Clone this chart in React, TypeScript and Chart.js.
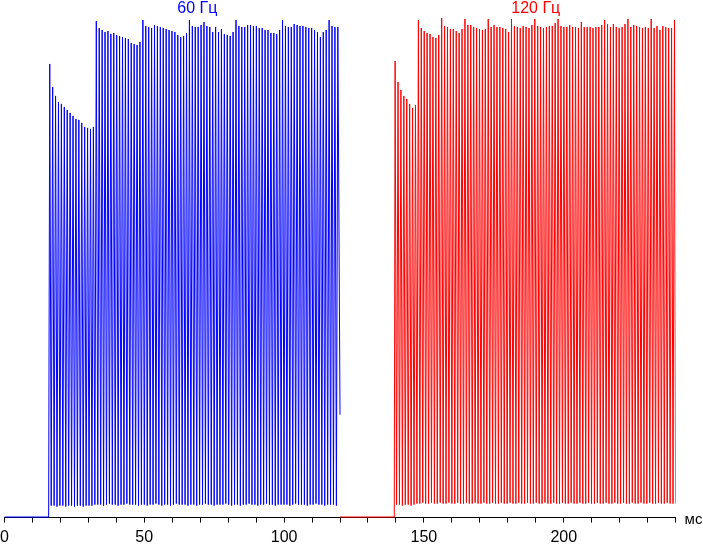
import { useEffect, useRef } from "react"
import { Chart, type ChartConfiguration, type Plugin, registerables } from "chart.js"

Chart.register(...registerables)

// flicker period of the backlight, ms (same in both modes)
const PERIOD = 1.0406

// x axis, ms
const X_MIN = 0
const X_MAX = 240
const X_STEP = 10
const X_LABELLED = [0, 50, 100, 150, 200]

// 60 Hz trace: dark until riseAt, then one peak + one trough per period
const hz60Dark = [0, 15.8]
const hz60FirstPeak = 16.2
const hz60Peaks = [
  454, 431, 422, 416, 414, 411, 408, 405, 402, 399, 398, 395, 391, 390, 389, 391,
  497, 490, 488, 486, 487, 484, 485, 483, 482, 481, 480, 479, 475, 474, 473, 476,
  498, 492, 491, 490, 493, 492, 491, 490, 489, 488, 487, 486, 483, 481, 482, 485,
  498, 492, 491, 491, 493, 496, 492, 491, 486, 491, 486, 489, 484, 483, 482, 486,
  498, 492, 491, 491, 493, 493, 492, 492, 490, 490, 488, 488, 485, 485, 484, 488,
  498, 492, 491, 491, 494, 493, 492, 492, 491, 490, 490, 488, 486, 481, 486, 488,
  498, 492, 491, 491,
]
const hz60Troughs = [
  12, 12, 11, 12, 12, 11, 12, 12, 11, 12, 12, 11, 12, 12, 12, 13,
  13, 13, 12, 13, 14, 13, 13, 12, 13, 13, 14, 13, 13, 13, 12, 13,
  13, 12, 13, 13, 14, 13, 12, 13, 13, 12, 13, 14, 13, 13, 13, 12,
  13, 13, 12, 13, 13, 14, 13, 13, 12, 13, 13, 13, 14, 13, 12, 13,
  13, 12, 13, 13, 14, 13, 13, 12, 13, 13, 14, 13, 13, 12, 13, 13,
  13, 13, 12, 13, 14, 13, 13, 13, 12, 13, 13, 14, 13, 13, 12, 13,
  13, 13, 12,
]
const hz60End = { x: 120, y: 103 }

// 120 Hz trace
const hz120Dark = [120, 139.4]
const hz120FirstPeak = 139.7
const hz120Peaks = [
  457, 436, 428, 422, 419, 414, 410, 413,
  498, 490, 487, 485, 484, 481, 480, 483,
  500, 492, 491, 489, 489, 487, 485, 489,
  499, 493, 493, 491, 490, 489, 488, 489,
  499, 491, 493, 491, 491, 490, 489, 486,
  499, 492, 491, 490, 492, 491, 490, 493,
  499, 492, 491, 490, 491, 492, 492, 495,
  499, 492, 491, 491, 493, 491, 491, 490,
  496, 491, 491, 491, 490, 491, 491, 493,
  498, 494, 491, 494, 491, 490, 491, 494,
  499, 491, 493, 492, 491, 490, 491, 490,
  499, 490, 492, 488, 492, 491, 490, 490,
  498,
]
const hz120Troughs = [
  13, 13, 12, 13, 13, 12, 13, 14,
  14, 15, 14, 14, 15, 14, 14, 15,
  14, 14, 15, 14, 14, 15, 14, 14,
  15, 14, 14, 15, 14, 14, 15, 14,
  14, 15, 14, 14, 15, 14, 14, 15,
  14, 14, 15, 14, 14, 15, 14, 14,
  15, 14, 14, 15, 14, 14, 15, 14,
  14, 15, 14, 14, 15, 14, 14, 15,
  14, 14, 15, 14, 14, 15, 14, 14,
  15, 14, 14, 15, 14, 14, 15, 14,
  14, 15, 14, 14, 15, 14, 14, 15,
  14, 14, 15, 14, 14, 15, 14, 14,
]
const hz120End = { x: 240, y: 14 }

const BLUE = "#0000ff"
const RED = "#ff0000"
const FONT = "Arial, 'Liberation Sans', sans-serif"

function buildTrace(dark: number[], firstPeak: number, peaks: number[], troughs: number[], end: { x: number; y: number }) {
  const pts = [{ x: dark[1], y: 0 }]
  peaks.forEach((p, i) => {
    const t = firstPeak + i * PERIOD
    pts.push({ x: t, y: p })
    if (i < troughs.length) pts.push({ x: t + PERIOD / 2, y: troughs[i] })
  })
  pts.push(end)
  return pts
}

// titles over each half and the unit at the end of the axis
const labelsPlugin: Plugin = {
  id: "labels",
  afterDraw(chart) {
    const { ctx, scales } = chart
    const x = scales.x
    ctx.save()
    ctx.font = `16px ${FONT}`
    ctx.textAlign = "center"
    ctx.textBaseline = "alphabetic"
    ctx.fillStyle = BLUE
    ctx.fillText("60 Гц", x.getPixelForValue(69), 13)
    ctx.fillStyle = RED
    ctx.fillText("120 Гц", x.getPixelForValue(190), 13)
    ctx.fillStyle = "#000"
    ctx.textAlign = "left"
    ctx.font = `15px ${FONT}`
    ctx.fillText("мс", x.right + 9, 524)
    ctx.restore()
  },
}

export default function App() {
  const chartRef = useRef<HTMLCanvasElement>(null)
  const chartInstance = useRef<Chart | null>(null)

  useEffect(() => {
    document.body.style.margin = "0"
    if (!chartRef.current) return
    if (chartInstance.current) chartInstance.current.destroy()
    const ctx = chartRef.current.getContext("2d")
    if (!ctx) return

    const config: ChartConfiguration<"line"> = {
      type: "line",
      data: {
        datasets: [
          {
            data: hz60Dark.map((x) => ({ x, y: 0 })),
            borderColor: BLUE,
            borderWidth: 2,
          },
          {
            data: buildTrace(hz60Dark, hz60FirstPeak, hz60Peaks, hz60Troughs, hz60End),
            borderColor: BLUE,
            borderWidth: 1,
          },
          {
            data: hz120Dark.map((x) => ({ x, y: 0 })),
            borderColor: RED,
            borderWidth: 2,
          },
          {
            data: buildTrace(hz120Dark, hz120FirstPeak, hz120Peaks, hz120Troughs, hz120End),
            borderColor: RED,
            borderWidth: 1,
          },
        ],
      },
      options: {
        animation: false,
        responsive: true,
        maintainAspectRatio: false,
        layout: { padding: { top: 10, left: 4, right: 27.4, bottom: -7 } },
        elements: {
          point: { radius: 0, hoverRadius: 0 },
          line: { tension: 0, fill: false },
        },
        scales: {
          x: {
            type: "linear",
            min: X_MIN,
            max: X_MAX,
            ticks: {
              stepSize: X_STEP,
              autoSkip: false,
              maxRotation: 0,
              padding: 0,
              color: "#000",
              font: { size: 16, family: FONT, lineHeight: 1.9 },
              callback: (value) => (X_LABELLED.includes(Number(value)) ? String(value) : ""),
            },
            grid: { drawOnChartArea: false, drawTicks: true, tickLength: 5, color: "#000" },
            border: { display: true, color: "#000", width: 1 },
          },
          y: { display: false, min: 0, max: 508 },
        },
        plugins: {
          legend: { display: false },
          tooltip: { enabled: false },
        },
      },
      plugins: [labelsPlugin],
    }

    chartInstance.current = new Chart(ctx, config)

    return () => {
      if (chartInstance.current) {
        chartInstance.current.destroy()
        chartInstance.current = null
      }
    }
  }, [])

  return (
    <div style={{ position: "relative", width: 703, height: 546 }}>
      <canvas ref={chartRef} />
    </div>
  )
}
